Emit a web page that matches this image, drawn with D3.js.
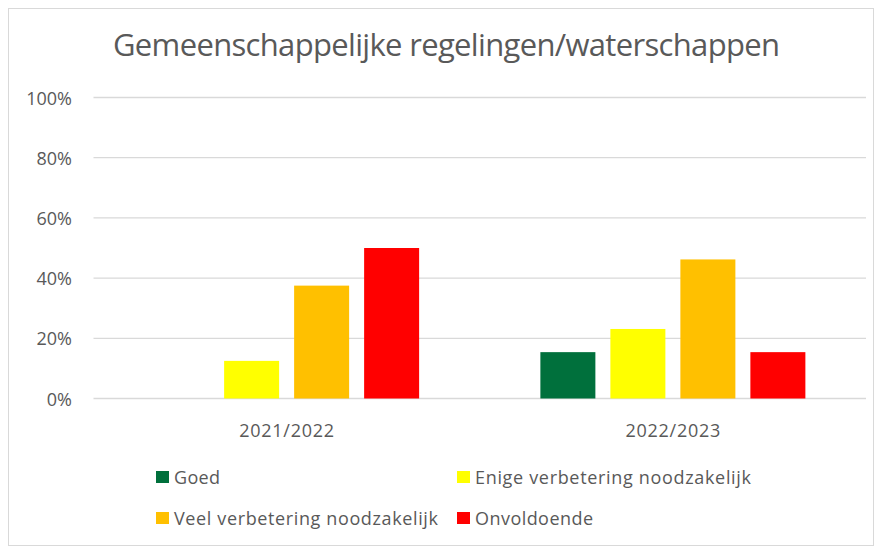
<!DOCTYPE html>
<html>
<head>
<meta charset="utf-8">
<script src="https://cdn.jsdelivr.net/npm/d3@7"></script>
<style>
  body { margin: 0; background: #fff; }
  text { font-family: "Open Sans", "Liberation Sans", sans-serif; fill: #595959; }
</style>
</head>
<body>
<div id="chart"></div>
<script>
// data
const years = ["2021/2022", "2022/2023"];
const series = ["Goed", "Enige verbetering noodzakelijk", "Veel verbetering noodzakelijk", "Onvoldoende"];
const colors = ["#00703c", "#ffff00", "#ffc000", "#ff0000"];
const goed = [0, 15.4];
const enige = [12.5, 23.1];
const veel = [37.5, 46.2];
const onvoldoende = [50, 15.4];
const yTicks = [0, 20, 40, 60, 80, 100];

const values = [goed, enige, veel, onvoldoende];
// rendered widths of the legend labels in the reference (loose spacing)
const legendWidths = [46, 276, 264, 118];

const width = 879, height = 547;
const margin = { top: 97.5, right: 13, bottom: 148.5, left: 93.5 };

const svg = d3.select("#chart").append("svg")
    .attr("width", width).attr("height", height);

// chart area border
svg.append("rect")
    .attr("x", 8.5).attr("y", 8.5)
    .attr("width", 865).attr("height", 537)
    .attr("fill", "#fff").attr("stroke", "#d9d9d9");

const x = d3.scaleBand().domain(years).range([margin.left, width - margin.right]);
const y = d3.scaleLinear().domain([0, 100]).range([height - margin.bottom, margin.top]);

// bars sit on a 70px step, 55px wide
const inner = d3.scaleBand().domain(series)
    .range([x.bandwidth() / 2 - 140, x.bandwidth() / 2 + 140])
    .paddingInner(15 / 70).paddingOuter(7.5 / 70);

// gridlines
svg.append("g")
    .selectAll("line").data(yTicks).enter().append("line")
    .attr("x1", margin.left).attr("x2", width - margin.right)
    .attr("y1", d => y(d)).attr("y2", d => y(d))
    .attr("stroke", "#d9d9d9").attr("stroke-width", 1.3);

// y labels
svg.append("g")
    .selectAll("text").data(yTicks).enter().append("text")
    .attr("x", 72).attr("y", d => y(d) + 7)
    .attr("text-anchor", "end")
    .style("font-size", "18px")
    .text(d => d + "%");

// bars
series.forEach((s, i) => {
    svg.append("g")
        .selectAll("rect").data(years).enter().append("rect")
        .attr("x", (d) => x(d) + inner(s))
        .attr("y", (d, j) => y(values[i][j]))
        .attr("width", inner.bandwidth())
        .attr("height", (d, j) => y(0) - y(values[i][j]))
        .attr("fill", colors[i]);
});

// category labels
svg.append("g")
    .selectAll("text").data(years).enter().append("text")
    .attr("x", d => x(d) + x.bandwidth() / 2)
    .attr("y", 437)
    .attr("text-anchor", "middle")
    .attr("textLength", 95).attr("lengthAdjust", "spacing")
    .style("font-size", "18px")
    .text(d => d);

// title
svg.append("text")
    .attr("x", 446.5).attr("y", 56)
    .attr("text-anchor", "middle")
    .attr("textLength", 667).attr("lengthAdjust", "spacing")
    .style("font-size", "31px")
    .text("Gemeenschappelijke regelingen/waterschappen");

// legend, two columns
const legend = svg.append("g")
    .selectAll("g").data(series).enter().append("g")
    .attr("transform", (d, i) => `translate(${i % 2 ? 457 : 156},${i < 2 ? 471 : 512})`);

legend.append("rect")
    .attr("width", 13).attr("height", 12)
    .attr("fill", (d, i) => colors[i]);

legend.append("text")
    .attr("x", 18).attr("y", 13)
    .attr("textLength", (d, i) => legendWidths[i]).attr("lengthAdjust", "spacing")
    .style("font-size", "18px")
    .text(d => d);
</script>
</body>
</html>
